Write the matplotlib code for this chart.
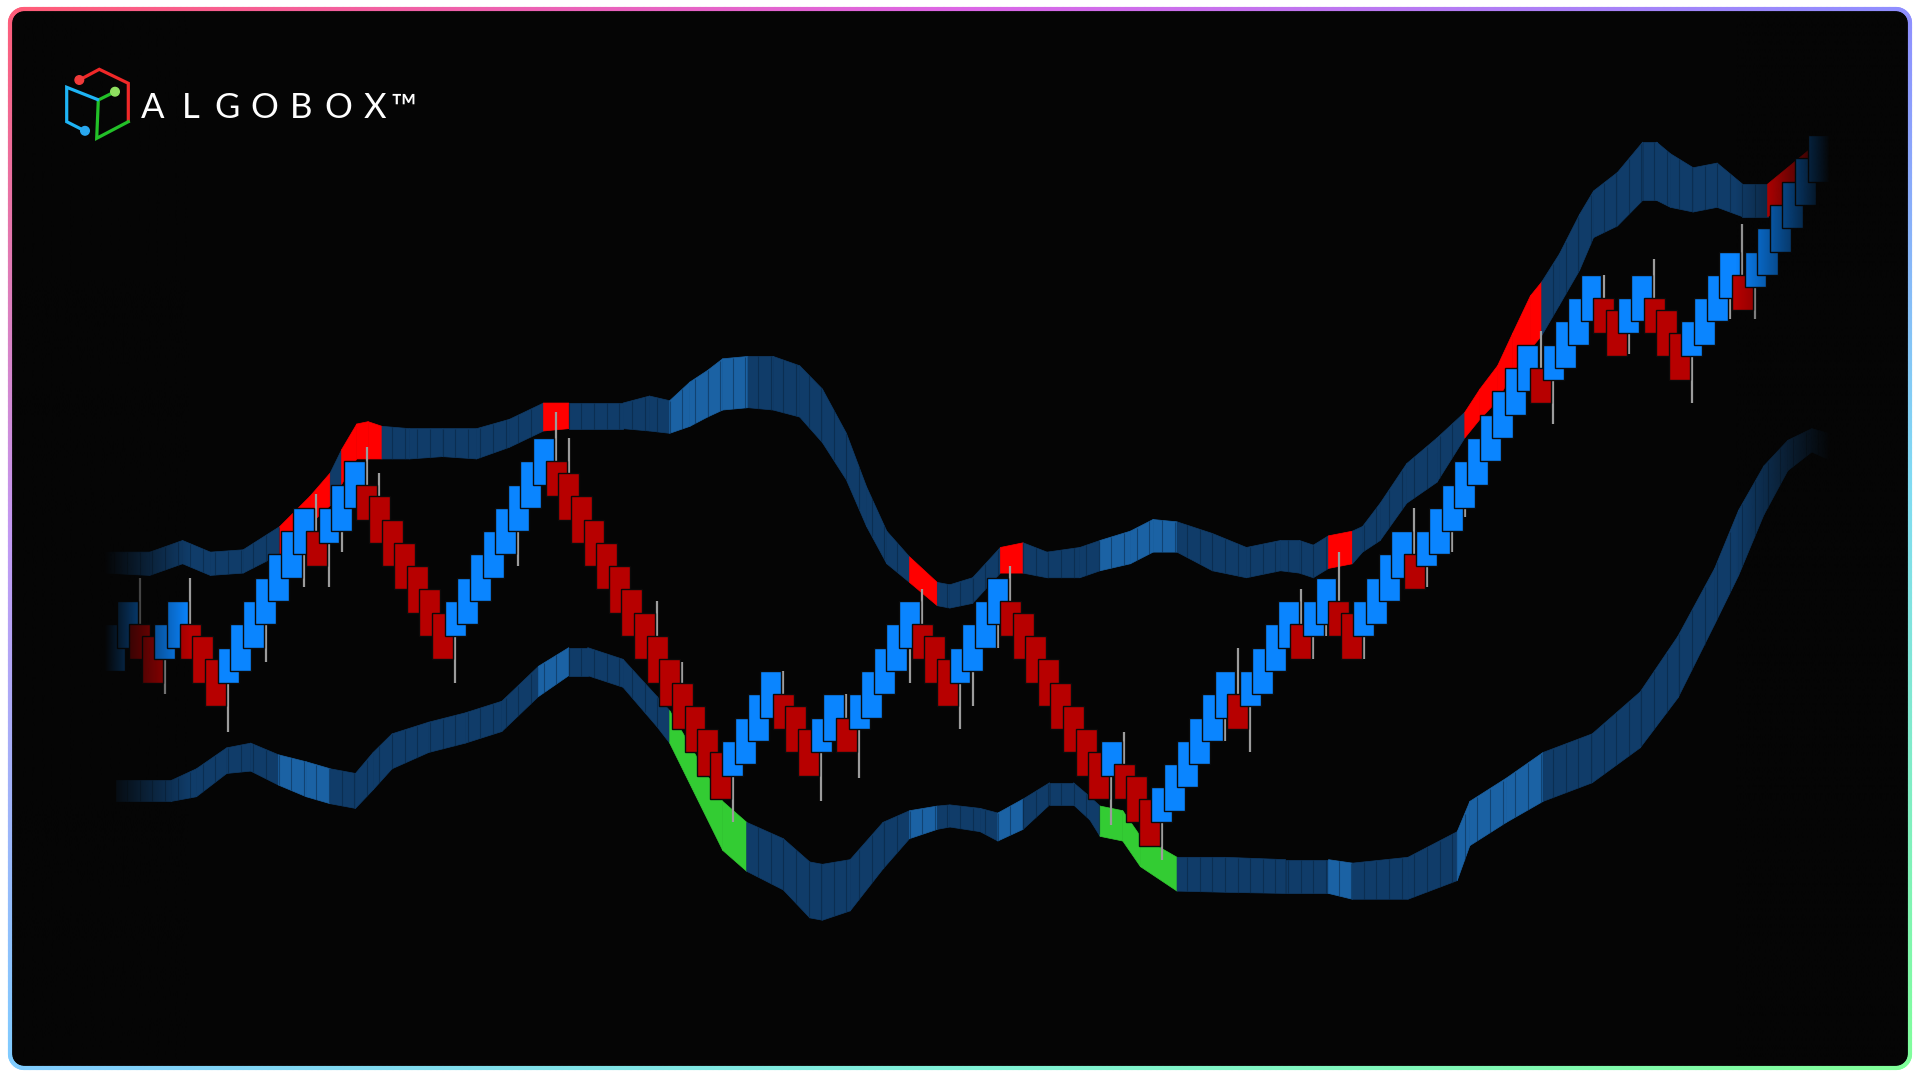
import numpy as np
import matplotlib
matplotlib.use("Agg")
import matplotlib.pyplot as plt
from matplotlib.patches import Rectangle, FancyBboxPatch, Circle
from matplotlib.collections import LineCollection, PolyCollection

BG = "#050505"
BLUE = "#0a85ff"
RED = "#b70000"
WICK = "#9c9c9c"
BAND = {"D": "#103c69", "L": "#1b62a4", "R": "#ff0000", "G": "#33cc33"}

# renko bricks (price in brick units), one per bar index
brick_open = [10, 11, 12, 11.5, 10.5, 11, 12, 11.5, 10.5, 9.5,
              10, 11, 12, 13, 14, 15, 16, 15.5, 16, 17,
              18, 17.5, 16.5, 15.5, 14.5, 13.5, 12.5, 11.5, 12, 13,
              14, 15, 16, 17, 18, 19, 18.5, 17.5, 16.5, 15.5,
              14.5, 13.5, 12.5, 11.5, 10.5, 9.5, 8.5, 7.5, 6.5, 5.5,
              6, 7, 8, 9, 8.5, 7.5, 6.5, 7, 8, 7.5,
              8, 9, 10, 11, 12, 11.5, 10.5, 9.5, 10, 11,
              12, 13, 12.5, 11.5, 10.5, 9.5, 8.5, 7.5, 6.5, 5.5,
              6, 5.5, 4.5, 3.5, 4, 5, 6, 7, 8, 9,
              8.5, 9, 10, 11, 12, 11.5, 12, 13, 12.5, 11.5,
              12, 13, 14, 15, 14.5, 15, 16, 17, 18, 19,
              20, 21, 22, 23, 22.5, 23, 24, 25, 26, 25.5,
              24.5, 25, 26, 25.5, 24.5, 23.5, 24, 25, 26, 27,
              26.5, 27, 28, 29, 30, 31]
brick_close = [12, 13, 10.5, 9.5, 12, 13, 10.5, 9.5, 8.5, 11,
               12, 13, 14, 15, 16, 17, 14.5, 17, 18, 19,
               16.5, 15.5, 14.5, 13.5, 12.5, 11.5, 10.5, 13, 14, 15,
               16, 17, 18, 19, 20, 17.5, 16.5, 15.5, 14.5, 13.5,
               12.5, 11.5, 10.5, 9.5, 8.5, 7.5, 6.5, 5.5, 4.5, 7,
               8, 9, 10, 7.5, 6.5, 5.5, 8, 9, 6.5, 9,
               10, 11, 12, 13, 10.5, 9.5, 8.5, 11, 12, 13,
               14, 11.5, 10.5, 9.5, 8.5, 7.5, 6.5, 5.5, 4.5, 7,
               4.5, 3.5, 2.5, 5, 6, 7, 8, 9, 10, 7.5,
               10, 11, 12, 13, 10.5, 13, 14, 11.5, 10.5, 13,
               14, 15, 16, 13.5, 16, 17, 18, 19, 20, 21,
               22, 23, 24, 21.5, 24, 25, 26, 27, 24.5, 23.5,
               26, 27, 24.5, 23.5, 22.5, 25, 26, 27, 28, 25.5,
               28, 29, 30, 31, 32, 33]

# wicks: bar index and the extreme price reached
wick_idx = [2, 4, 6, 9, 12, 15, 16, 17, 18, 20, 21, 27, 32, 35, 36, 43, 45, 49,
            53, 56, 58, 59, 63, 64, 67, 68, 70, 71, 79, 80, 83, 88, 89, 90, 94,
            95, 96, 97, 99, 103, 104, 106, 107, 113, 114, 118, 120, 122, 125,
            128, 129, 130]
wick_end = [14.0, 9.0, 14.0, 7.4, 10.4, 13.6, 17.6, 13.6, 15.1, 19.6, 18.5, 9.5,
            14.5, 21.1, 20.0, 13.0, 10.4, 3.5, 10.0, 4.4, 9.0, 5.4, 9.5, 13.5,
            7.5, 8.5, 11.0, 14.5, 3.4, 7.4, 1.9, 7.0, 11.0, 6.5, 13.5, 10.5, 11.5,
            15.1, 10.5, 17.0, 13.6, 15.1, 16.6, 24.6, 20.6, 27.0, 23.6, 27.7,
            21.5, 25.1, 29.2, 25.1]

# upper channel
up_x = [-0.8, 2.8, 5.4, 7.6, 10.2, 13.1, 15.5, 17.1, 18.0, 19.2, 20.1, 21.2,
        23.4, 26.0, 28.7, 31.3, 34.0, 36.0, 40.3, 42.4, 44.0, 45.6, 47.0, 48.2,
        50.2, 52.2, 54.3, 56.1, 58.0, 59.6, 61.2, 63.0, 65.2, 66.2, 68.0, 70.2,
        72.0, 73.9, 76.5, 78.1, 80.5, 82.3, 84.2, 87.0, 89.7, 92.4, 93.9, 95.0,
        96.2, 98.1, 98.9, 100.3, 102.4, 104.8, 107.0, 108.2, 109.6, 110.8,
        112.2, 113.1, 114.5, 116.1, 117.2, 119.1, 121.1, 122.2, 123.3, 125.1,
        127.0, 129.0, 131.0, 132.8, 134.8]
up_top = [15.1, 15.1, 15.6, 15.1, 15.2, 16.2, 17.5, 18.5, 19.5, 20.6, 20.7, 20.5,
          20.4, 20.4, 20.4, 20.8, 21.5, 21.5, 21.5, 21.8, 21.6, 22.4, 22.9, 23.4,
          23.5, 23.5, 23.1, 22.1, 20.2, 17.9, 16.0, 14.9, 13.8, 13.7, 14.0, 15.3,
          15.5, 15.1, 15.3, 15.6, 16.0, 16.5, 16.4, 15.9, 15.3, 15.6, 15.6, 15.4,
          15.8, 16.0, 16.2, 17.2, 18.9, 20.0, 21.1, 22.1, 23.1, 24.5, 26.1, 26.7,
          27.9, 29.6, 30.6, 31.4, 32.7, 32.7, 32.2, 31.6, 31.8, 30.9, 30.9, 31.7,
          32.6]
up_bot = [14.2, 14.1, 14.6, 14.1, 14.2, 15.0, 16.3, 17.1, 18.0, 19.1, 19.1, 19.1,
          19.1, 19.2, 19.1, 19.6, 20.3, 20.4, 20.4, 20.3, 20.2, 20.5, 20.9, 21.2,
          21.3, 21.2, 20.9, 19.8, 18.2, 16.2, 14.6, 13.8, 12.8, 12.7, 12.9, 14.2,
          14.2, 14.0, 14.0, 14.3, 14.6, 15.1, 15.1, 14.3, 14.0, 14.3, 14.2, 14.0,
          14.4, 14.6, 15.1, 15.6, 17.2, 18.1, 20.0, 20.8, 21.6, 22.8, 23.8, 24.4,
          25.7, 27.2, 28.6, 29.1, 30.2, 30.2, 29.9, 29.7, 29.9, 29.5, 29.5, 30.0,
          30.4]
up_state = list("DDDDDRRDRRRDDDDDRDDDLLLLDDDDDDDRDDDRDDDLLLDDDDDDRDDDDDRRRRRDDDDDDDDDDDRR")

# lower channel
lo_x = [0.1, 4.5, 6.5, 8.9, 10.8, 13.0, 15.2, 17.1, 19.1, 20.5, 22.0, 24.9, 27.8,
        30.7, 33.6, 36.0, 37.5, 40.3, 43.0, 44.0, 48.2, 50.1, 53.0, 55.1, 56.1,
        58.3, 60.9, 63.0, 65.2, 66.2, 68.6, 70.0, 72.0, 74.1, 76.0, 77.3, 78.1,
        79.9, 81.3, 84.2, 88.0, 92.8, 96.2, 98.1, 102.5, 106.4, 107.4, 110.3,
        113.2, 117.1, 120.9, 123.9, 126.8, 128.7, 130.7, 132.6, 134.5, 136.5]
lo_top = [5.3, 5.3, 5.8, 6.7, 6.9, 6.4, 6.1, 5.8, 5.6, 6.5, 7.3, 7.8, 8.2, 8.7,
          10.2, 11.0, 11.0, 10.5, 8.9, 8.3, 4.4, 3.5, 2.8, 1.8, 1.7, 1.9, 3.5, 4.0,
          4.2, 4.25, 4.1, 3.9, 4.5, 5.2, 5.2, 4.6, 4.2, 4.0, 2.9, 2.0, 2.0, 1.9,
          1.9, 1.75, 2.0, 3.1, 4.4, 5.4, 6.5, 7.3, 9.1, 11.5, 14.4, 16.9, 18.8,
          19.9, 20.4, 20.1]
lo_bot = [4.4, 4.4, 4.6, 5.6, 5.7, 5.1, 4.6, 4.3, 4.1, 4.9, 5.8, 6.5, 6.9, 7.4,
          8.9, 9.8, 9.8, 9.3, 7.6, 6.9, 2.3, 1.4, 0.6, -0.6, -0.7, -0.3, 1.5, 2.8,
          3.2, 3.3, 3.1, 2.7, 3.2, 4.25, 4.25, 3.6, 2.9, 2.7, 1.6, 0.55, 0.5,
          0.45, 0.45, 0.2, 0.2, 1.0, 2.5, 3.5, 4.4, 5.2, 6.7, 8.85, 12.0, 14.1,
          16.7, 18.6, 19.4, 18.9]
lo_state = list("DDDDDLLDDDDDDDLDDDDGGDDDDDDLDDDLDDDDGGGDDDLDDLLLDDDDDDDDD")

fig = plt.figure(figsize=(19.2, 10.77), dpi=100)
fig.patch.set_facecolor("white")

# background panel (pixel coordinates)
ax_bg = fig.add_axes([0, 0, 1, 1])
ax_bg.set_xlim(0, 1920)
ax_bg.set_ylim(1077, 0)
ax_bg.axis("off")
ax_bg.add_patch(FancyBboxPatch((10, 9), 1900, 1059,
                               boxstyle="round,pad=0,rounding_size=14",
                               fc=BG, ec="none"))

# chart axes: bar index / price
ax = fig.add_axes([0, 0, 1, 1])
ax.set_xlim(-9.07, 143.07)
ax.set_ylim(-7.43, 38.80)
ax.axis("off")


def draw_band(xs, top, bot, state):
    polys, fcs = [], []
    for k in range(len(xs) - 1):
        polys.append([(xs[k], top[k]), (xs[k + 1], top[k + 1]),
                      (xs[k + 1], bot[k + 1]), (xs[k], bot[k])])
        fcs.append(BAND[state[k]])
    ax.add_collection(PolyCollection(polys, facecolors=fcs, edgecolors=fcs,
                                     linewidths=0.5, zorder=1))
    # faint vertical texture, one line per bar, only on the blue parts
    bars = np.arange(np.ceil(xs[0]), np.floor(xs[-1]) + 1)
    seg = np.searchsorted(xs, bars, side="right") - 1
    seg = np.clip(seg, 0, len(state) - 1)
    keep = np.array([state[s] in "DL" for s in seg])
    bx = bars[keep]
    ax.vlines(bx, np.interp(bx, xs, bot), np.interp(bx, xs, top),
              colors="#071f38", lw=0.8, alpha=0.45, zorder=1.2)


draw_band(up_x, up_top, up_bot, up_state)
draw_band(lo_x, lo_top, lo_bot, lo_state)

for i, e in zip(wick_idx, wick_end):
    o, c = brick_open[i], brick_close[i]
    ax.vlines(i, min(e, o, c), max(e, o, c), colors=WICK, lw=1.6, zorder=2)

for i, (o, c) in enumerate(zip(brick_open, brick_close)):
    col = BLUE if c > o else RED
    ax.add_patch(Rectangle((i - 0.83, min(o, c)), 1.66, abs(c - o),
                           fc=col, ec="#0b0b0b", lw=1.0, zorder=3))

# foreground: fades, border, logo (pixel coordinates)
ax_fg = fig.add_axes([0, 0, 1, 1])
ax_fg.patch.set_alpha(0)
ax_fg.axis("off")
bg_rgb = matplotlib.colors.to_rgb(BG)

xl = np.linspace(14, 195, 200)
gl = np.zeros((2, xl.size, 4))
gl[..., :3] = bg_rgb
gl[..., 3] = np.clip((190 - xl) / 85.0, 0, 1)
ax_fg.imshow(gl, extent=(14, 195, 1062, 15), aspect="auto", interpolation="bilinear", zorder=5)

xr = np.linspace(1730, 1906, 200)
gr = np.zeros((2, xr.size, 4))
gr[..., :3] = bg_rgb
gr[..., 3] = np.clip((xr - 1735) / 95.0, 0, 1)
ax_fg.imshow(gr, extent=(1730, 1906, 1062, 15), aspect="auto", interpolation="bilinear", zorder=5)

ax_fg.set_xlim(0, 1920)
ax_fg.set_ylim(1077, 0)

# gradient border
x0, y0, x1, y1, r = 10, 9, 1910, 1068, 14
pts = []
pts += [(x, y0) for x in np.linspace(x0 + r, x1 - r, 300)]
pts += [(x1 - r + r * np.cos(a), y0 + r - r * np.sin(a)) for a in np.linspace(np.pi / 2, 0, 12)]
pts += [(x1, y) for y in np.linspace(y0 + r, y1 - r, 200)]
pts += [(x1 - r + r * np.cos(a), y1 - r + r * np.sin(a)) for a in np.linspace(0, np.pi / 2, 12)]
pts += [(x, y1) for x in np.linspace(x1 - r, x0 + r, 300)]
pts += [(x0 + r - r * np.cos(a), y1 - r + r * np.sin(a)) for a in np.linspace(0, np.pi / 2, 12)[::-1]]
pts += [(x0, y) for y in np.linspace(y1 - r, y0 + r, 200)]
pts += [(x0 + r - r * np.cos(a), y0 + r - r * np.sin(a)) for a in np.linspace(0, np.pi / 2, 12)]
pts = np.array(pts)
seglen = np.hypot(*np.diff(pts, axis=0).T)
t = np.concatenate([[0], np.cumsum(seglen)]) / seglen.sum()
keys_t = [0.0, 0.16, 0.32, 0.40, 0.50, 0.66, 0.82, 0.91, 1.0]
keys_c = [(1.0, 0.36, 0.47), (0.86, 0.40, 0.90), (0.56, 0.56, 1.0), (0.50, 0.86, 0.95),
          (0.50, 1.0, 0.60), (0.50, 0.95, 0.85), (0.50, 0.80, 1.0), (0.76, 0.60, 0.95),
          (1.0, 0.36, 0.47)]
kc = np.array(keys_c)
tm = (t[:-1] + t[1:]) / 2
cols = np.stack([np.interp(tm, keys_t, kc[:, j]) for j in range(3)], axis=1)
segs = np.stack([pts[:-1], pts[1:]], axis=1)
ax_fg.add_collection(LineCollection(segs, colors=cols, linewidths=3.0, zorder=10,
                                    capstyle="round"))

# logo
lw_logo = 2.3
ax_fg.plot([79.3, 99.3, 128.3, 128.3], [80, 69.3, 83.3, 121], color="#f02828",
           lw=lw_logo, solid_joinstyle="miter", zorder=11)
ax_fg.plot([115, 98.3, 96.7, 128.3], [91.7, 100, 138.3, 121.7], color="#22c028",
           lw=lw_logo, solid_joinstyle="miter", zorder=11)
ax_fg.plot([97.5, 66.7, 66.7, 84], [99.5, 87.3, 121.7, 130.5], color="#1eb4f5",
           lw=lw_logo, solid_joinstyle="miter", zorder=11)
ax_fg.add_patch(Circle((79.3, 80), 4.3, color="#f03a3a", zorder=12))
ax_fg.add_patch(Circle((115, 91.7), 4.3, color="#8fe060", zorder=12))
ax_fg.add_patch(Circle((85, 130.8), 4.3, color="#29a8f0", zorder=12))

letters = ["A", "L", "G", "O", "B", "O", "X", "\u2122"]
letter_x = [152.5, 190.5, 227.5, 264.5, 301.5, 338.5, 375.0, 404.0]
for ch, lx in zip(letters, letter_x):
    ax_fg.text(lx, 118.3, ch, color="white", fontsize=25, ha="center", va="baseline",
               family=["Lato", "DejaVu Sans"], fontweight="normal", zorder=12)

fig.savefig("out.png", dpi=100, facecolor=fig.get_facecolor())
